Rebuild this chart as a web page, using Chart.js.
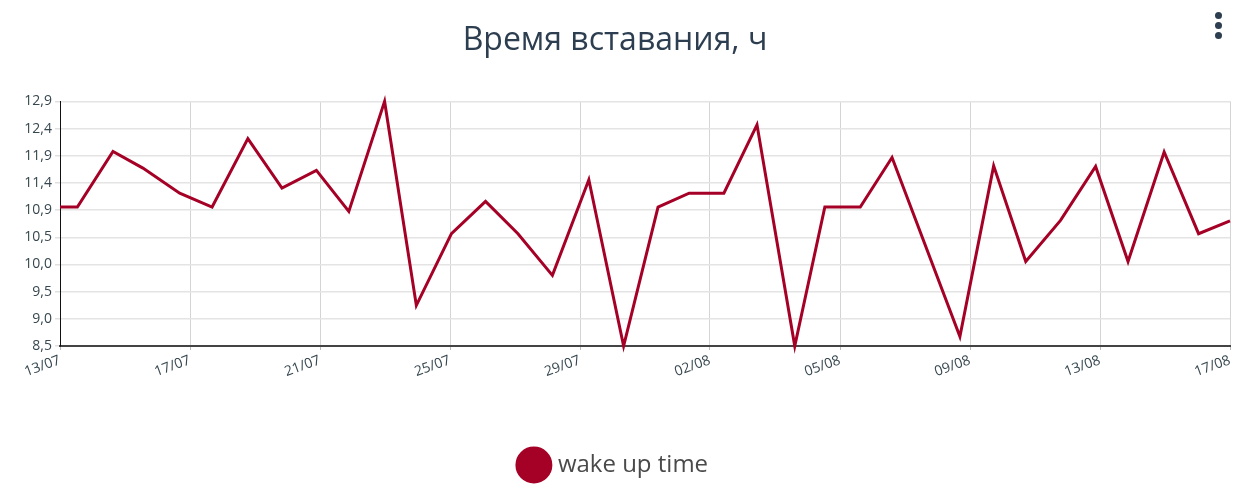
<!DOCTYPE html>
<html>
<head>
<meta charset="utf-8">
<script src="https://cdn.jsdelivr.net/npm/chart.js@4"></script>
<style>
  html, body { margin: 0; padding: 0; background: #fff; }
  #wrap { position: relative; width: 1244px; height: 493px; }
  .dot { position: absolute; left: 1215px; width: 7px; height: 7px; border-radius: 50%; background: #2c3e50; }
</style>
</head>
<body>
<div id="wrap">
  <canvas id="chart" width="1244" height="493"></canvas>
  <div class="dot" style="top:12px"></div>
  <div class="dot" style="top:22px"></div>
  <div class="dot" style="top:32px"></div>
</div>
<script>
// days since the start of the axis (13/07)
const xDays = [0, 0.52, 1.585, 2.48, 3.58, 4.55, 5.62, 6.64, 7.67, 8.64, 9.71, 10.66,
  11.71, 12.73, 13.70, 14.73, 15.82, 16.86, 17.89, 18.82, 19.86, 20.85, 21.98, 22.88,
  23.94, 24.89, 26.92, 27.93, 28.89, 29.93, 30.98, 31.95, 33.03, 34.06, 35];

// wake up time, hours
const wakeUpTime = [11.0, 11.0, 12.0, 11.7, 11.25, 11.0, 12.23, 11.34, 11.66, 10.92, 12.9, 9.23,
  10.52, 11.1, 10.52, 9.77, 11.49, 8.5, 11.0, 11.25, 11.25, 12.48, 8.5, 11.0,
  11.0, 11.89, 8.67, 11.74, 10.02, 10.76, 11.73, 10.02, 11.99, 10.52, 10.75];

const xTickLabels = ["13/07", "17/07", "21/07", "25/07", "29/07", "02/08", "05/08", "09/08", "13/08", "17/08"];
const yTickLabels = ["8,5", "9,0", "9,5", "10,0", "10,5", "10,9", "11,4", "11,9", "12,4", "12,9"];

const X_MIN = 0, X_MAX = 35;
const Y_MIN = 8.5, Y_MAX = 12.9;

// evenly spaced ticks, like the original
function evenTicks(scale, min, max, n) {
  const ticks = [];
  for (let i = 0; i < n; i++) ticks.push({ value: min + i * (max - min) / (n - 1) });
  scale.ticks = ticks;
}

const points = xDays.map((d, i) => ({ x: d, y: wakeUpTime[i] }));
const lineColor = "#a50026";
const tickFont = { family: "'Open Sans', sans-serif", size: 14 };

new Chart(document.getElementById("chart"), {
  type: "line",
  data: {
    datasets: [{
      label: "wake up time",
      data: points,
      borderColor: lineColor,
      backgroundColor: lineColor,
      borderWidth: 3,
      pointRadius: 0,
      pointHoverRadius: 0,
      pointStyle: "circle",
      tension: 0,
      clip: false
    }]
  },
  options: {
    responsive: false,
    animation: false,
    layout: { padding: { left: 0, right: 14, top: 0, bottom: 6 } },
    plugins: {
      title: {
        display: true,
        text: "Время вставания, ч",
        color: "#2c3e50",
        font: { family: "'Open Sans', sans-serif", size: 32, weight: "normal" },
        padding: { top: 22, bottom: 41 }
      },
      legend: {
        position: "bottom",
        labels: {
          usePointStyle: true,
          color: "#4a4a4a",
          font: { family: "'Open Sans', sans-serif", size: 24 },
          padding: 10
        }
      },
      tooltip: { enabled: false }
    },
    scales: {
      x: {
        type: "linear",
        min: X_MIN,
        max: X_MAX,
        afterBuildTicks: (scale) => evenTicks(scale, X_MIN, X_MAX, xTickLabels.length),
        afterFit: (scale) => { scale.height = 97; },
        ticks: {
          autoSkip: false,
          maxRotation: 20,
          minRotation: 20,
          padding: 2,
          color: "#37474f",
          font: tickFont,
          callback: (value, index) => xTickLabels[index]
        },
        grid: { color: "rgba(0,0,0,0.17)", lineWidth: 1, tickLength: 4, tickColor: "#bbb" },
        border: { display: true, color: "#444", width: 2 }
      },
      y: {
        min: Y_MIN,
        max: Y_MAX,
        afterBuildTicks: (scale) => evenTicks(scale, Y_MIN, Y_MAX, yTickLabels.length),
        afterFit: (scale) => { scale.width = 60; },
        ticks: {
          padding: 3,
          color: "#37474f",
          font: tickFont,
          callback: (value, index) => yTickLabels[index]
        },
        grid: { color: "#e4e4e4", lineWidth: 1.5, tickLength: 5, tickColor: "#e0e0e0" },
        border: { display: true, color: "#111", width: 1 }
      }
    }
  }
});
</script>
</body>
</html>
